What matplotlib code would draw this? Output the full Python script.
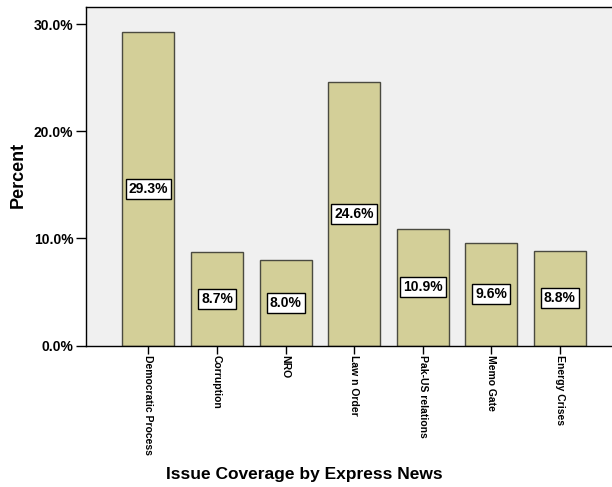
import matplotlib
matplotlib.use("Agg")
import matplotlib.pyplot as plt
from matplotlib.ticker import FuncFormatter

categories = ["Democratic Process", "Corruption", "NRO", "Law n Order",
              "Pak-US relations", "Memo Gate", "Energy Crises"]
percent = [29.3, 8.7, 8.0, 24.6, 10.9, 9.6, 8.8]
y_ticks = [0, 10, 20, 30]

plt.rcParams["font.family"] = ["Liberation Sans", "DejaVu Sans"]
plt.rcParams["font.weight"] = "bold"

fig = plt.figure(figsize=(6.12, 4.87), dpi=100)
fig.patch.set_facecolor("white")
W, H = 612, 487
left, right, top, bottom = 86, 612, 7, 345.5
ax = fig.add_axes([left / W, 1 - bottom / H, (right - left) / W, (bottom - top) / H])
ax.set_facecolor("#f0f0f0")

x = list(range(len(categories)))
bars = ax.bar(x, percent, width=0.76, color="#d3cf98", edgecolor="#4a4a40",
              linewidth=1.0, zorder=2)

for xi, v in zip(x, percent):
    ax.text(xi, v / 2, f"{v:.1f}%", ha="center", va="center", fontsize=10,
            fontweight="bold", zorder=3,
            bbox=dict(boxstyle="square,pad=0.22", facecolor="white",
                      edgecolor="black", linewidth=1.0))

ax.set_xlim(-0.91, 6.76)
ax.set_ylim(0, 31.6)
ax.set_yticks(y_ticks)
ax.yaxis.set_major_formatter(FuncFormatter(lambda v, p: f"{v:.1f}%"))
ax.set_xticks(x)
ax.set_xticklabels(categories, rotation=270, fontsize=7.5, fontweight="bold")

ax.tick_params(axis="y", direction="out", length=7, width=1, labelsize=10, pad=2)
ax.tick_params(axis="x", direction="out", length=6, width=1, pad=1)

for name in ["left", "top", "bottom"]:
    ax.spines[name].set_color("black")
    ax.spines[name].set_linewidth(1.0)
ax.spines["right"].set_visible(False)

fig.text(18 / W, 1 - 175 / H, "Percent", rotation=90, ha="center", va="center",
         fontsize=13, fontweight="bold")
fig.text(304 / W, 1 - 474 / H, "Issue Coverage by Express News", ha="center",
         va="center", fontsize=12.5, fontweight="bold")

fig.savefig("out.png", dpi=100)
